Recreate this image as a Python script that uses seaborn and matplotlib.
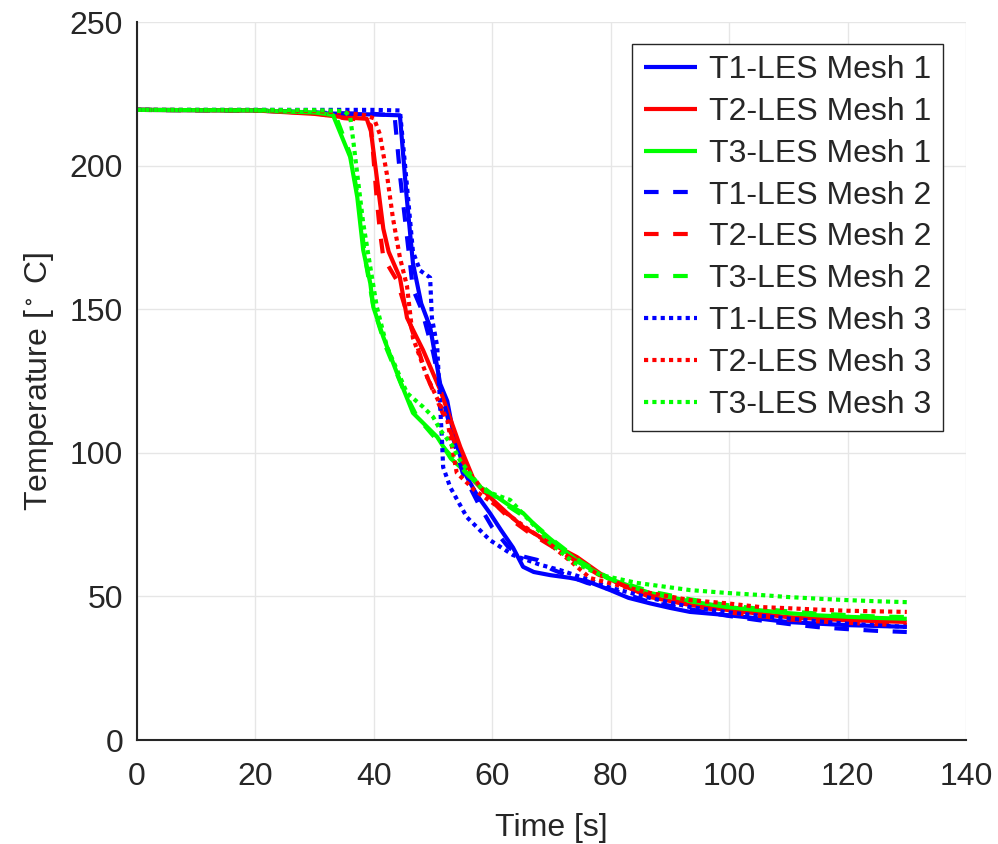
import numpy as np
import pandas as pd
import matplotlib
matplotlib.use("Agg")
import matplotlib.pyplot as plt
import seaborn as sns

# ---------------- data ----------------
t1_m1_t = [0, 20, 30, 35, 40, 44.4, 45.5, 46.6, 48, 49.5, 51.2, 52.4, 53.5, 55.7, 57.5, 59.6, 61.5, 63.5, 65.2, 67, 69.8, 73, 76, 79.9, 83, 86.6, 90, 93.4, 99.6, 105, 109.8, 115, 120, 125, 130]
t1_m1_T = [219.4, 219.2, 218.3, 218, 217.8, 217.5, 190, 166, 152, 143.8, 124, 118, 106, 91.6, 85, 79, 73, 67, 60.3, 58.5, 57.4, 56.5, 55.3, 52.2, 49.5, 47.6, 46, 44.6, 43.5, 42.3, 41.1, 40.5, 40, 39.7, 39.4]

t2_m1_t = [0, 20, 30, 35, 38.8, 39.5, 41.6, 42.5, 44.4, 45.6, 48.3, 51.2, 54.6, 57, 60.1, 62.5, 65.2, 69.8, 74.3, 78.2, 81, 86.6, 93.4, 99.6, 105, 109.8, 115, 120, 125, 130]
t2_m1_T = [219.4, 219.2, 218, 216.8, 216.3, 212, 178, 170, 161, 147, 135.8, 121.9, 102, 90, 83.6, 79, 74.2, 68.6, 63.7, 58, 54.8, 49.8, 47, 45.3, 44, 42.8, 42.2, 41.7, 41.4, 41.1]

t3_m1_t = [0, 20, 30, 33.1, 36, 37.2, 38.2, 39.4, 39.9, 41.6, 43.9, 46.6, 50.7, 53, 55.7, 58, 60.8, 63, 65.2, 68.1, 69.8, 74.8, 79.4, 86.6, 93.4, 99.6, 105, 109.8, 115, 120, 125, 130]
t3_m1_T = [219.4, 219.2, 218.5, 217.6, 203, 189, 170.6, 159, 150.8, 140.3, 127.8, 113.9, 105.5, 98, 93, 88, 84.6, 81.5, 79, 73, 70, 61.6, 56.4, 51.2, 48.3, 46.3, 45.2, 44.2, 43.4, 42.9, 42.5, 42.2]

t1_m2_t = [0, 20, 30, 35, 40, 43.5, 44.5, 46.6, 48.1, 50, 51.5, 53, 55, 57.6, 60, 62.7, 65, 67.6, 70, 73, 76, 79, 83, 86.6, 93.4, 99.6, 104.7, 110, 115, 120, 125, 130]
t1_m2_T = [219.4, 219.2, 218.5, 218.2, 218, 217.5, 195, 157, 149.7, 135, 120, 108, 93, 82.5, 74, 67.2, 64, 62.7, 59.5, 57, 54.7, 53, 50.5, 48, 45.5, 43.3, 41.8, 40.4, 39.3, 38.6, 38, 37.6]

t2_m2_t = [0, 20, 30, 35, 38, 39.5, 40.5, 41, 41.6, 43.9, 46.6, 49, 52, 55, 58, 60, 63, 66, 70, 74, 78, 82, 86.6, 93.4, 99.6, 105, 110, 115, 120, 125, 130]
t2_m2_T = [219.4, 219.2, 218.3, 216.5, 216, 214, 188, 177.6, 168, 160, 141.7, 126.4, 112, 97, 88, 83, 77, 72.5, 67.5, 62.5, 57.5, 54, 50.3, 47, 44.5, 43.2, 42, 41.3, 40.8, 40.3, 40]

t3_m2_t = [0, 20, 30, 33.5, 36, 37.5, 38.5, 40, 42, 45, 47.3, 50, 53, 56, 60, 63, 66, 70, 75, 80, 86.6, 93.4, 99.6, 105, 110, 115, 120, 125, 130]
t3_m2_T = [219.4, 219.2, 218.5, 217.6, 204, 187, 168, 150, 137, 121.9, 112.5, 106, 99, 92, 85.5, 81, 77, 70, 62, 56, 51.8, 49, 47, 45.7, 44.8, 44, 43.5, 43, 42.8]

t1_m3_t = [0, 20, 30, 40, 44.4, 45.5, 46.6, 47.8, 49.5, 49.8, 50.7, 51.2, 51.5, 51.7, 52.9, 55.7, 59.6, 63.5, 68.1, 71.4, 76, 80, 86.6, 93.4, 99.6, 105, 110, 115, 120, 125, 130]
t1_m3_T = [219.4, 219.4, 219.4, 219.4, 219.2, 195, 170, 163.5, 161, 147, 137, 116, 104.5, 95, 88, 77.6, 69.6, 64.4, 61, 59.2, 56, 53, 49.5, 46.3, 44.5, 43.3, 42.3, 41.3, 40.5, 39.9, 39.4]

t2_m3_t = [0, 20, 30, 35, 38.5, 40, 41, 42.2, 43.2, 44.4, 45.6, 46.6, 49, 52.4, 53.2, 54, 57, 60.1, 63, 66, 69.2, 73.6, 76.5, 81, 86.6, 93.4, 99.6, 105.2, 109.8, 115, 120, 125, 130]
t2_m3_T = [219.4, 219.3, 219, 218.5, 217.5, 216.5, 211, 197, 182, 168, 158, 140, 126.4, 111.4, 102, 93, 87, 82.5, 78, 73.5, 69, 61.6, 56.4, 54, 51.2, 48.7, 47.6, 46.3, 45.9, 45.4, 45, 44.8, 44.6]

t3_m3_t = [0, 20, 30, 35, 36, 36.5, 37.2, 38.2, 39.4, 40.5, 42.2, 45.6, 48.3, 50, 51.2, 53.4, 54.5, 58.4, 63, 66, 69.8, 73.6, 78.2, 84.4, 93.4, 99.6, 105.2, 109.8, 115, 120, 125, 130]
t3_m3_T = [219.4, 219.4, 219.3, 219, 217, 209, 197, 180, 164.7, 150.8, 137, 120.8, 116, 112.5, 108, 102, 97.5, 87, 83.6, 77, 68.6, 62, 57.5, 54.7, 52.2, 51.2, 50.5, 49.8, 49.2, 48.7, 48.3, 48]

labels = ["T1-LES Mesh 1", "T2-LES Mesh 1", "T3-LES Mesh 1",
          "T1-LES Mesh 2", "T2-LES Mesh 2", "T3-LES Mesh 2",
          "T1-LES Mesh 3", "T2-LES Mesh 3", "T3-LES Mesh 3"]
series = [(t1_m1_t, t1_m1_T), (t2_m1_t, t2_m1_T), (t3_m1_t, t3_m1_T),
          (t1_m2_t, t1_m2_T), (t2_m2_t, t2_m2_T), (t3_m2_t, t3_m2_T),
          (t1_m3_t, t1_m3_T), (t2_m3_t, t2_m3_T), (t3_m3_t, t3_m3_T)]

# ---------------- style ----------------
sns.set_style("white")
plt.rcParams["font.family"] = ["Liberation Sans", "DejaVu Sans"]
plt.rcParams["mathtext.fontset"] = "custom"
plt.rcParams["mathtext.rm"] = "Liberation Sans"
plt.rcParams["mathtext.default"] = "regular"

colors = ["#0000ff", "#ff0000", "#00ff00"]
styles = ["-", (0, (3.5, 3.5)), (0, (1, 1))]

fig = plt.figure(figsize=(9.98, 8.44), dpi=100)
ax = fig.add_axes([137 / 998, 1 - 740 / 844, (966 - 137) / 998, (740 - 22) / 844])

for i, ((tt, TT), lab) in enumerate(zip(series, labels)):
    mesh = i // 3
    probe = i % 3
    df = pd.DataFrame({"t": tt, "T": TT})
    sns.lineplot(data=df, x="t", y="T", ax=ax, color=colors[probe],
                 linestyle=styles[mesh], linewidth=3.0, label=lab,
                 solid_capstyle="butt", dash_capstyle="butt", estimator=None, sort=False)

ax.set_xlim(0, 140)
ax.set_ylim(0, 250)
ax.set_xticks(np.arange(0, 141, 20))
ax.set_yticks(np.arange(0, 251, 50))
ax.grid(True, color="#e6e6e6", linewidth=1.0)
ax.set_axisbelow(True)
for s in ["top", "right"]:
    ax.spines[s].set_visible(False)
for s in ["left", "bottom"]:
    ax.spines[s].set_color("#262626")
    ax.spines[s].set_linewidth(1.5)
ax.tick_params(axis="both", labelsize=23, colors="#262626", direction="in", length=0)
ax.tick_params(axis="x", pad=16)
ax.tick_params(axis="y", pad=10)

ax.set_xlabel("Time [s]", fontsize=23, color="#262626", labelpad=15)
ax.set_ylabel(r"Temperature [$^\circ$ C]", fontsize=23, color="#262626", labelpad=10)

leg = ax.legend(loc="upper right", bbox_to_anchor=((943 - 137) / 829, (740 - 44) / 718),
                borderaxespad=0, fontsize=23, handlelength=1.66, handletextpad=0.4,
                labelspacing=0.37, borderpad=0.35, frameon=True, fancybox=False)
leg.get_frame().set_edgecolor("#262626")
leg.get_frame().set_linewidth(1.0)
leg.get_frame().set_alpha(1.0)

fig.savefig("out.png", dpi=100)
